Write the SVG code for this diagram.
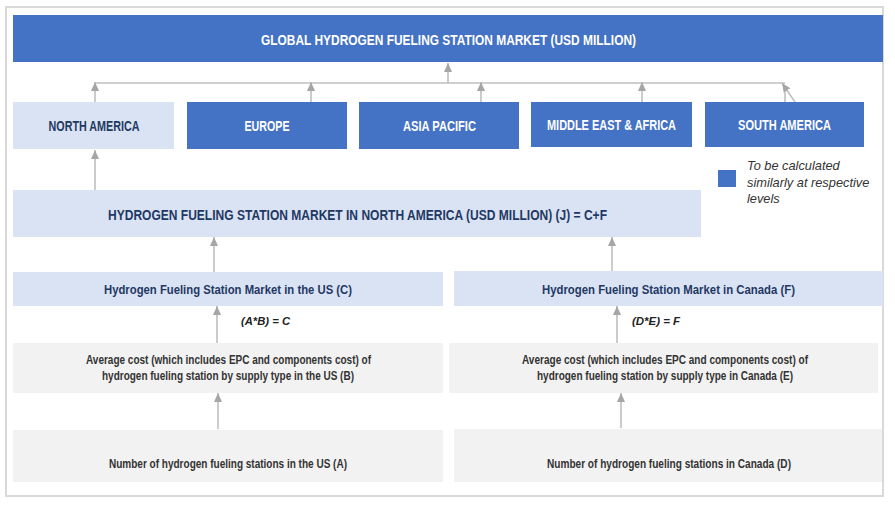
<svg xmlns="http://www.w3.org/2000/svg" width="895" height="509" viewBox="0 0 895 509">
<style>
.blue{fill:#4472c4}
.light{fill:#dae3f3}
.gray{fill:#f2f2f2}
.t{font-family:"Liberation Sans",Arial,sans-serif;font-weight:bold;text-anchor:middle}
.w{fill:#ffffff}
.d{fill:#1f3864}
.k{fill:#333333}
.f{font-family:"Liberation Sans",Arial,sans-serif;font-weight:bold;font-style:italic;fill:#222222;font-size:11px}
.lg{font-family:"Liberation Sans",Arial,sans-serif;font-style:italic;fill:#333333;font-size:12.8px}
.c{stroke:#bfbfbf;stroke-width:1.6;fill:none}
.ca{stroke:#bfbfbf;stroke-width:1.6;fill:none;marker-end:url(#ah)}
</style>
<defs>
<marker id="ah" markerUnits="userSpaceOnUse" markerWidth="10" markerHeight="10" viewBox="0 0 10 10" refX="9" refY="5" orient="auto">
<path d="M0,1 L9,5 L0,9 Z" fill="#a6a6a6"/>
</marker>
</defs>
<rect x="6" y="7" width="877" height="489" fill="#ffffff" stroke="#d9d9d9" stroke-width="2"/>

<g id="connectors">
<line class="c" x1="95" y1="83" x2="785" y2="83"/>
<line class="ca" x1="448" y1="83" x2="448" y2="63"/>
<line class="ca" x1="95" y1="102" x2="95" y2="82"/>
<line class="ca" x1="311" y1="102" x2="311" y2="82"/>
<line class="ca" x1="481" y1="102" x2="481" y2="82"/>
<line class="ca" x1="642" y1="102" x2="642" y2="82"/>
<line class="c" x1="785" y1="102" x2="785" y2="90"/>
<line class="ca" x1="795" y1="102" x2="782" y2="83"/>
<line class="ca" x1="95" y1="190" x2="95" y2="150"/>
<line class="ca" x1="214" y1="272" x2="214" y2="237"/>
<line class="ca" x1="612" y1="271" x2="612" y2="237"/>
<line class="ca" x1="217" y1="343" x2="217" y2="306"/>
<line class="ca" x1="617" y1="343" x2="617" y2="306"/>
<line class="ca" x1="218" y1="429" x2="218" y2="393"/>
<line class="ca" x1="621" y1="428" x2="621" y2="393"/>
</g>

<g id="global">
<rect class="blue" x="13" y="15" width="870" height="47"/>
<text class="t w" x="448.5" y="45" font-size="14" textLength="375" lengthAdjust="spacingAndGlyphs">GLOBAL HYDROGEN FUELING STATION MARKET (USD MILLION)</text>
</g>
<g id="north-america">
<rect class="light" x="13" y="102" width="161" height="47"/>
<text class="t d" x="94" y="131" font-size="14" textLength="91" lengthAdjust="spacingAndGlyphs">NORTH AMERICA</text>
</g>
<g id="europe">
<rect class="blue" x="187" y="102" width="160" height="47"/>
<text class="t w" x="267" y="131" font-size="14" textLength="45" lengthAdjust="spacingAndGlyphs">EUROPE</text>
</g>
<g id="asia-pacific">
<rect class="blue" x="359" y="102" width="160" height="47"/>
<text class="t w" x="439.5" y="131" font-size="14" textLength="73" lengthAdjust="spacingAndGlyphs">ASIA PACIFIC</text>
</g>
<g id="middle-east-africa">
<rect class="blue" x="531" y="102" width="161" height="45"/>
<text class="t w" x="611.5" y="130" font-size="14" textLength="129" lengthAdjust="spacingAndGlyphs">MIDDLE EAST &amp; AFRICA</text>
</g>
<g id="south-america">
<rect class="blue" x="705" y="102" width="159" height="45"/>
<text class="t w" x="784.5" y="130" font-size="14" textLength="93" lengthAdjust="spacingAndGlyphs">SOUTH AMERICA</text>
</g>
<g id="legend">
<rect class="blue" x="718" y="170" width="18" height="17"/>
<text class="lg" x="747" y="170">To be calculated</text>
<text class="lg" x="747" y="187">similarly at respective</text>
<text class="lg" x="747" y="203">levels</text>
</g>
<g id="na-market">
<rect class="light" x="13" y="190" width="688" height="47"/>
<text class="t d" x="357.5" y="220" font-size="14" textLength="499" lengthAdjust="spacingAndGlyphs">HYDROGEN FUELING STATION MARKET IN NORTH AMERICA (USD MILLION) (J) = C+F</text>
</g>
<g id="us-market">
<rect class="light" x="13" y="272" width="430" height="34"/>
<text class="t d" x="228" y="293.5" font-size="13.5" textLength="248" lengthAdjust="spacingAndGlyphs">Hydrogen Fueling Station Market in the US (C)</text>
</g>
<g id="canada-market">
<rect class="light" x="454" y="271" width="429" height="35"/>
<text class="t d" x="668.5" y="293.5" font-size="13.5" textLength="253" lengthAdjust="spacingAndGlyphs">Hydrogen Fueling Station Market in Canada (F)</text>
</g>
<g id="formula-us">
<text class="f" x="241" y="325" textLength="49" lengthAdjust="spacingAndGlyphs">(A*B) = C</text>
</g>
<g id="formula-canada">
<text class="f" x="632" y="325" textLength="48" lengthAdjust="spacingAndGlyphs">(D*E) = F</text>
</g>
<g id="us-cost">
<rect class="gray" x="13" y="343" width="430" height="50"/>
<text class="t k" x="228.5" y="364" font-size="12" textLength="285" lengthAdjust="spacingAndGlyphs">Average cost (which includes EPC and components cost) of</text>
<text class="t k" x="228" y="380" font-size="12" textLength="252" lengthAdjust="spacingAndGlyphs">hydrogen fueling station by supply type in the US (B)</text>
</g>
<g id="canada-cost">
<rect class="gray" x="449" y="343" width="429" height="50"/>
<text class="t k" x="665" y="364" font-size="12" textLength="286" lengthAdjust="spacingAndGlyphs">Average cost (which includes EPC and components cost) of</text>
<text class="t k" x="665" y="380" font-size="12" textLength="256" lengthAdjust="spacingAndGlyphs">hydrogen fueling station by supply type in Canada (E)</text>
</g>
<g id="us-number">
<rect class="gray" x="13" y="430" width="430" height="52"/>
<text class="t k" x="228" y="468" font-size="12" textLength="238" lengthAdjust="spacingAndGlyphs">Number of hydrogen fueling stations in the US (A)</text>
</g>
<g id="canada-number">
<rect class="gray" x="454" y="429" width="428" height="53"/>
<text class="t k" x="669" y="468" font-size="12" textLength="244" lengthAdjust="spacingAndGlyphs">Number of hydrogen fueling stations in Canada (D)</text>
</g>
</svg>
